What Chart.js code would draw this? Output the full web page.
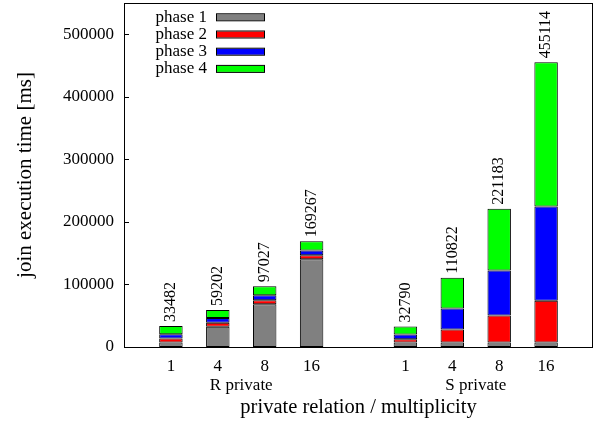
<!DOCTYPE html>
<html>
<head>
<meta charset="utf-8">
<script src="https://cdn.jsdelivr.net/npm/chart.js@4.4.1/dist/chart.umd.min.js"></script>
<style>
  html, body { margin: 0; padding: 0; background: #fff; }
  canvas { display: block; }
</style>
</head>
<body>
<canvas id="chart" width="601" height="424"></canvas>
<script>
// values (ms)
const groups = ['R private', 'S private'];
const slots = [1, 2, 3, 4, 6, 7, 8, 9];
const tickLabels = ['1', '4', '8', '16', '1', '4', '8', '16'];
const phase1 = [7000, 32500, 68300, 140400, 7000, 7000, 7000, 7000];
const phase2 = [6500, 6400, 6400, 6400, 5300, 20900, 43300, 67000];
const phase3 = [7000, 7500, 8000, 7400, 7500, 33600, 72000, 150500];
const phase4 = [12982, 12802, 14327, 15067, 12990, 49322, 98883, 230614];
const totals = [33482, 59202, 97027, 169267, 32790, 110822, 221183, 455114];
const yTicks = [0, 100000, 200000, 300000, 400000, 500000];

const serif = '"Liberation Serif", "DejaVu Serif", serif';

function points(values) {
  return values.map((v, i) => ({ x: slots[i], y: v }));
}

function makeSet(label, values, color) {
  return {
    label: label,
    data: points(values),
    backgroundColor: color,
    borderColor: '#000',
    borderWidth: 1,
    borderSkipped: false,
    categoryPercentage: 1,
    barPercentage: 0.5
  };
}

// frame, inner y ticks, value labels, group labels, legend
const extras = {
  id: 'extras',
  afterDraw(chart) {
    const ctx = chart.ctx;
    const area = chart.chartArea;
    const x = chart.scales.x;
    const y = chart.scales.y;
    ctx.save();

    ctx.strokeStyle = '#000';
    ctx.lineWidth = 1;
    ctx.strokeRect(area.left + 0.5, area.top + 0.5, area.right - area.left - 1, area.bottom - area.top);
    yTicks.forEach(v => {
      const py = Math.round(y.getPixelForValue(v)) + 0.5;
      ctx.beginPath();
      ctx.moveTo(area.left, py);
      ctx.lineTo(area.left + 5, py);
      ctx.stroke();
    });

    ctx.fillStyle = '#000';
    ctx.font = '16px ' + serif;
    ctx.textAlign = 'left';
    ctx.textBaseline = 'middle';
    totals.forEach((t, i) => {
      ctx.save();
      ctx.translate(x.getPixelForValue(slots[i]), y.getPixelForValue(t) - 4);
      ctx.rotate(-Math.PI / 2);
      ctx.fillText(String(t), 0, 0);
      ctx.restore();
    });

    ctx.font = '17px ' + serif;
    ctx.textAlign = 'center';
    groups.forEach((g, i) => {
      const a = x.getPixelForValue(slots[i * 4]);
      const b = x.getPixelForValue(slots[i * 4 + 3]);
      ctx.fillText(g, (a + b) / 2, 386);
    });

    ctx.textAlign = 'right';
    chart.data.datasets.forEach((ds, i) => {
      const ry = 17.3 + i * 17.2;
      ctx.fillStyle = '#000';
      ctx.fillText(ds.label, 207, ry);
      ctx.fillStyle = ds.backgroundColor;
      ctx.fillRect(216, ry - 3, 48, 6);
      ctx.strokeRect(216.5, ry - 3.5, 48, 7);
    });
    ctx.restore();
  }
};

new Chart(document.getElementById('chart'), {
  type: 'bar',
  data: {
    datasets: [
      makeSet('phase 1', phase1, '#808080'),
      makeSet('phase 2', phase2, '#ff0000'),
      makeSet('phase 3', phase3, '#0000ff'),
      makeSet('phase 4', phase4, '#00ff00')
    ]
  },
  options: {
    responsive: false,
    animation: false,
    layout: { padding: { left: 0, top: 3, right: 8, bottom: 0 } },
    plugins: { legend: { display: false }, tooltip: { enabled: false } },
    scales: {
      x: {
        type: 'linear',
        stacked: true,
        offset: false,
        min: 0,
        max: 10,
        grid: { display: false, drawTicks: false },
        border: { display: false },
        afterBuildTicks: scale => { scale.ticks = slots.map(v => ({ value: v })); },
        afterFit: scale => {
          scale.height = 77;
          scale.paddingLeft = 0;
          scale.paddingRight = 0;
        },
        ticks: {
          color: '#000',
          font: { family: serif, size: 17 },
          padding: 9,
          maxRotation: 0,
          autoSkip: false,
          callback: v => tickLabels[slots.indexOf(v)]
        },
        title: {
          display: true,
          text: 'private relation / multiplicity',
          color: '#000',
          font: { family: serif, size: 20.5 },
          padding: { top: 0, bottom: 4 }
        }
      },
      y: {
        stacked: true,
        min: 0,
        max: 550000,
        grid: { display: false, drawTicks: false },
        border: { display: false },
        afterBuildTicks: scale => { scale.ticks = yTicks.map(v => ({ value: v })); },
        afterFit: scale => {
          scale.width = 124;
          scale.paddingTop = 0;
          scale.paddingBottom = 0;
        },
        ticks: {
          color: '#000',
          font: { family: serif, size: 17 },
          padding: 10,
          callback: v => String(v)
        },
        title: {
          display: true,
          text: 'join execution time [ms]',
          color: '#000',
          font: { family: serif, size: 21 },
          padding: { top: 13, bottom: 0 }
        }
      }
    }
  },
  plugins: [extras]
});
</script>
</body>
</html>
